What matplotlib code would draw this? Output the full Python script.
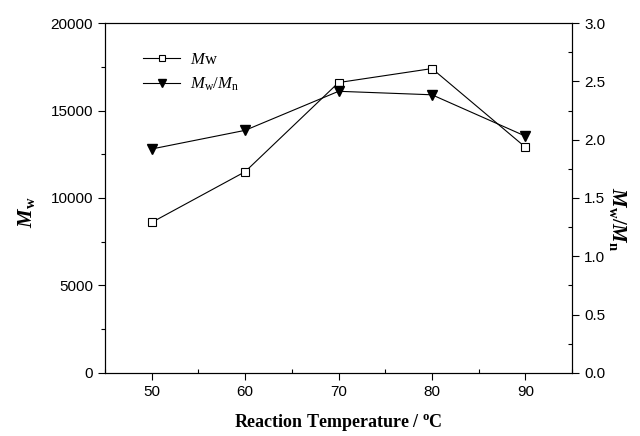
import matplotlib
matplotlib.use('Agg')
import matplotlib.pyplot as plt
from matplotlib.ticker import MultipleLocator, FormatStrFormatter

plt.rcParams['font.family'] = ['Liberation Sans', 'DejaVu Sans']
plt.rcParams['mathtext.fontset'] = 'custom'
plt.rcParams['mathtext.rm'] = 'Liberation Serif'
plt.rcParams['mathtext.it'] = 'Liberation Serif:italic'
plt.rcParams['mathtext.bf'] = 'Liberation Serif:bold'
plt.rcParams['mathtext.bfit'] = 'Liberation Serif:italic:bold'

# data
temperature = [50, 60, 70, 80, 90]
mw = [8600, 11500, 16600, 17400, 12900]
pdi = [1.92, 2.08, 2.415, 2.385, 2.03]

fig = plt.figure(figsize=(6.4, 4.36), dpi=100)
ax = fig.add_axes([0.164, 0.145, 0.73, 0.802])
ax2 = ax.twinx()

l1, = ax.plot(temperature, mw, color='black', lw=0.8, marker='s', ms=6,
              mfc='white', mec='black', mew=0.8)
l2, = ax2.plot(temperature, pdi, color='black', lw=0.8, marker='v', ms=7,
               mfc='black', mec='black')

ax.set_xlim(45, 95)
ax.set_ylim(0, 20000)
ax2.set_ylim(0, 3.0)
ax.xaxis.set_major_locator(MultipleLocator(10))
ax.xaxis.set_minor_locator(MultipleLocator(5))
ax.yaxis.set_major_locator(MultipleLocator(5000))
ax.yaxis.set_minor_locator(MultipleLocator(2500))
ax2.yaxis.set_major_locator(MultipleLocator(0.5))
ax2.yaxis.set_minor_locator(MultipleLocator(0.25))
ax2.yaxis.set_major_formatter(FormatStrFormatter('%.1f'))

ax.tick_params(which='major', direction='out', length=5, width=0.8, labelsize=11)
ax.tick_params(axis='x', which='minor', direction='in', length=3, width=0.8)
ax.tick_params(axis='y', which='minor', direction='out', length=3, width=0.8)
ax2.tick_params(which='major', direction='out', length=5, width=0.8, labelsize=11)
ax2.tick_params(which='minor', direction='in', length=3, width=0.8)
for a in (ax, ax2):
    for s in a.spines.values():
        s.set_linewidth(0.8)

ax.set_xlabel(r'$\mathbf{Reaction\ Temperature\ /\ ^{o}C}$', fontsize=13, labelpad=10)
ax.set_ylabel(r'$\mathbfit{M}_{\mathbf{w}}$', fontsize=15, labelpad=10)
ax.yaxis.set_label_coords(-0.145, 0.46)
ax2.set_ylabel(r'$\mathbfit{M}_{\mathbf{w}}\mathbf{/}\mathbfit{M}_{\mathbf{n}}$',
               fontsize=15, rotation=270, labelpad=14)
ax2.yaxis.set_label_coords(1.12, 0.44)

leg = ax.legend([l1, l2], [r'$M\mathrm{w}$', r'$M_{\mathrm{w}}/M_{\mathrm{n}}$'],
                loc='upper left', bbox_to_anchor=(0.05, 0.96), frameon=False,
                fontsize=12, handlelength=2.2, handletextpad=0.6, labelspacing=0.5,
                markerscale=0.8)

fig.savefig('out.png', dpi=100)
